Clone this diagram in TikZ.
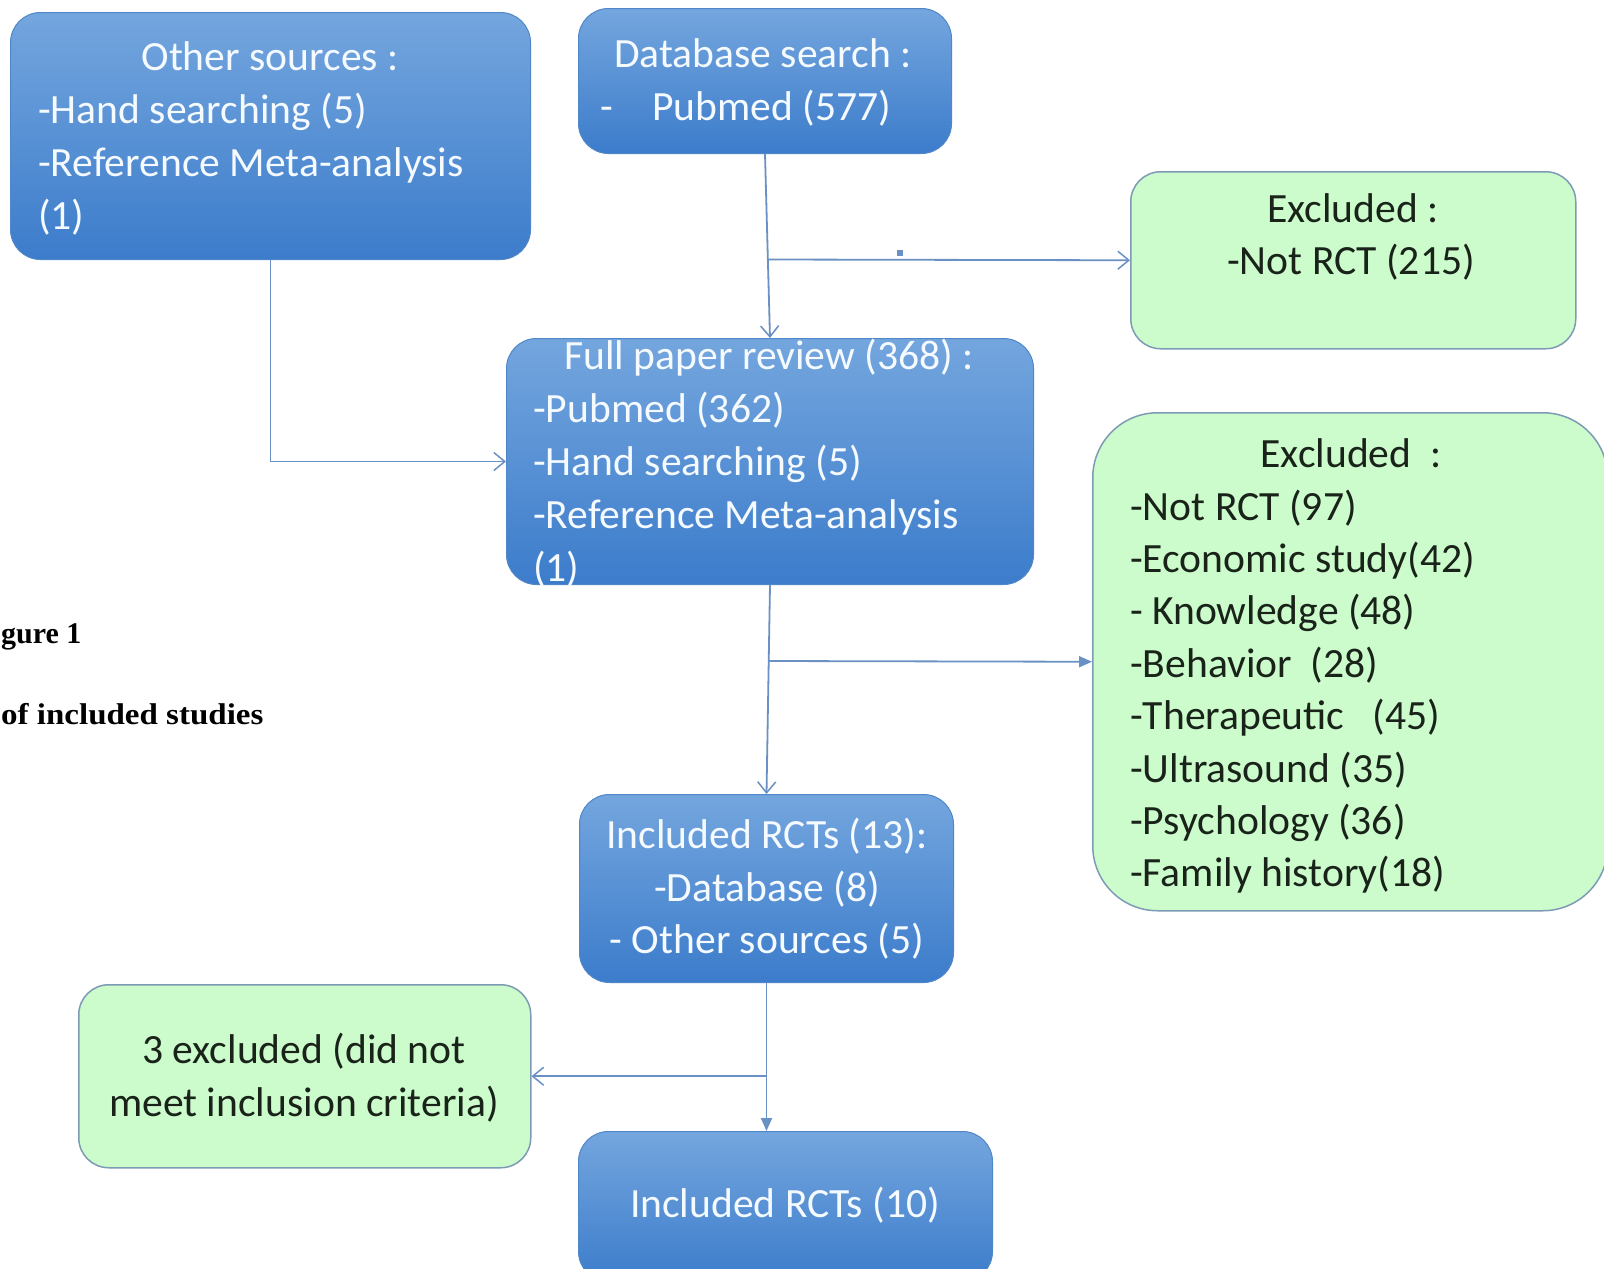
\documentclass[tikz,border=0pt]{standalone}
\usepackage{fontspec}
\setmainfont{Carlito}
\newfontfamily\figfont{Liberation Serif}
\usetikzlibrary{arrows.meta}
\definecolor{bluetop}{RGB}{116,166,222}
\definecolor{bluebot}{RGB}{60,124,203}
\definecolor{blueedge}{RGB}{80,135,200}
\definecolor{greenfill}{RGB}{204,252,204}
\definecolor{greenedge}{RGB}{125,155,180}
\definecolor{conn}{RGB}{105,145,195}
\definecolor{wtext}{RGB}{245,250,255}
\definecolor{gtext}{RGB}{25,35,25}
\tikzset{
  bluebox/.style={rectangle, rounded corners=30pt, draw=blueedge, line width=1pt,
    top color=bluetop, bottom color=bluebot, inner sep=0pt, anchor=north west},
  greenbox/.style={rectangle, rounded corners=30pt, draw=greenedge, line width=1.5pt,
    fill=greenfill, inner sep=0pt, anchor=north west},
  wt/.style={text=wtext, font=\fontsize{41.6}{53}\selectfont, inner sep=0pt},
  gt/.style={text=gtext, font=\fontsize{41.6}{53}\selectfont, inner sep=0pt},
  figt/.style={text=black, font=\figfont\bfseries\fontsize{30}{36}\selectfont, inner sep=0pt},
  link/.style={draw=conn, line width=1.8pt},
  opentip/.style={-{Straight Barb[length=11pt,width=18pt,line width=1.5pt]}},
  filledtip/.style={-{Triangle[length=13pt,width=11pt]}}
}
\begin{document}
\begin{tikzpicture}[x=1pt,y=-1pt]
\path[use as bounding box] (0,0) rectangle (1604,1269);
\clip (0,0) rectangle (1604,1269);
\fill[white] (0,0) rectangle (1604,1269);

% boxes
\node[bluebox, minimum width=520pt, minimum height=247pt] (other) at (10,12) {};
\node[bluebox, minimum width=373pt, minimum height=145pt] (db) at (578,8) {};
\node[greenbox, minimum width=445pt, minimum height=177pt] (ex1) at (1130,171) {};
\node[bluebox, minimum width=527pt, minimum height=246pt] (full) at (506,338) {};
\node[greenbox, rounded corners=65pt, minimum width=515pt, minimum height=498pt] (ex2) at (1092,412) {};
\node[bluebox, minimum width=374pt, minimum height=188pt] (inc13) at (579,794) {};
\node[greenbox, minimum width=452pt, minimum height=183pt] (ex3) at (78,984) {};
\node[bluebox, minimum width=414pt, minimum height=150pt] (inc10) at (578,1131) {};

% connectors
\coordinate (j1) at (767,259.5);
\coordinate (j2) at (768,661);
\coordinate (j3) at (inc13.south |- ex3.east);
\draw[link, opentip] (db.south) -- (full.north);
\draw[link, opentip] (j1) -- (ex1.west);
\draw[link, opentip] (other.south) |- (full.west);
\draw[link, opentip] (full.south) -- (inc13.north);
\draw[link, filledtip] (j2) -- (ex2.west);
\draw[link, filledtip] (inc13.south) -- (inc13.south |- inc10.north);
\draw[link, opentip] (j3) -- (ex3.east);
\fill[conn] (897,250) rectangle (903,256);

% texts: other sources
\node[wt, anchor=base] (o1) at (270,70) {Other sources :};
\node[wt, anchor=base west] (o2) at (38,123) {-Hand searching (5)};
\node[wt, anchor=base west] (o3) at (38,176) {-Reference Meta-analysis};
\node[wt, anchor=base west] (o4) at (38,229) {(1)};
% database
\node[wt, anchor=base] (d1) at (763,67) {Database search :};
\node[wt, anchor=base west] (d2) at (600,120) {\makebox[52pt][l]{-}Pubmed (577)};
% excluded 1
\node[gt, anchor=base] (e1a) at (1353,222) {Excluded :};
\node[gt, anchor=base] (e1b) at (1351,274) {-Not RCT (215)};
% full paper
\node[wt, anchor=base] (f1) at (769,369) {Full paper review (368) :};
\node[wt, anchor=base west] (f2) at (533,422) {-Pubmed (362)};
\node[wt, anchor=base west] (f3) at (533,475) {-Hand searching (5)};
\node[wt, anchor=base west] (f4) at (533,528) {-Reference Meta-analysis};
\node[wt, anchor=base west] (f5) at (533,581) {(1)};
% excluded 2
\node[gt, anchor=base] (x0) at (1351,467) {Excluded\ \ :};
\node[gt, anchor=base west] (x1) at (1130,520) {-Not RCT (97)};
\node[gt, anchor=base west] (x2) at (1130,572.4) {-Economic study(42)};
\node[gt, anchor=base west] (x3) at (1130,624.8) {- Knowledge (48)};
\node[gt, anchor=base west] (x4) at (1130,677.2) {-Behavior\ \ (28)};
\node[gt, anchor=base west] (x5) at (1130,729.6) {-Therapeutic\ \ \ (45)};
\node[gt, anchor=base west] (x6) at (1130,782) {-Ultrasound (35)};
\node[gt, anchor=base west] (x7) at (1130,834.4) {-Psychology (36)};
\node[gt, anchor=base west] (x8) at (1130,886.8) {-Family history(18)};
% included 13
\node[wt, anchor=base] (i1) at (767,848) {Included RCTs (13):};
\node[wt, anchor=base] (i2) at (767,901) {-Database (8)};
\node[wt, anchor=base] (i3) at (767,953) {- Other sources (5)};
% excluded 3
\node[gt, anchor=base] (g1) at (304,1063) {3 excluded (did not};
\node[gt, anchor=base] (g2) at (304,1116) {meet inclusion criteria)};
% included 10
\node[wt, anchor=base] (k1) at (785,1217) {Included RCTs (10)};
% figure caption fragments (as shown, cut at the left edge)
\node[figt, anchor=base west] (cap1) at (1,643) {gure 1};
\node[figt, anchor=base west] (cap2) at (1,724) {\scalebox{1.1}[1]{of included studies}};
\end{tikzpicture}
\end{document}
